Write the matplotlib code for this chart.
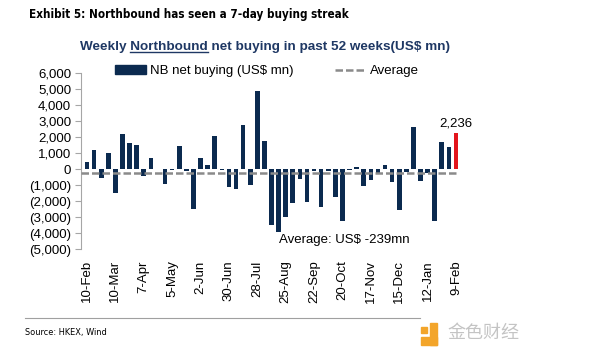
import numpy as np
import matplotlib.pyplot as plt
import matplotlib.patches as mpatches
from matplotlib.lines import Line2D
from matplotlib.ticker import FuncFormatter, MultipleLocator

plt.rcParams['font.family'] = ['Liberation Sans', 'DejaVu Sans']

# weekly northbound net buying, US$ mn
nb_buying = [440, 1200, -580, 980, -1500, 2170, 1600, 1520, -420, 710,
             30, -940, -80, 1440, -100, -2500, 710, 250, 2040, -30,
             -1150, -1250, 2770, -1000, 4850, 1750, -3500, -3960, -3020, -2120,
             -620, -2040, -100, -2370, -150, -1770, -3230, -80, 100, -1040,
             -670, -250, 250, -790, -2560, -200, 2630, -730, -250, -3230,
             1690, 1400, 2236]
avg_value = -239
tick_labels = ['10-Feb', '10-Mar', '7-Apr', '5-May', '2-Jun', '30-Jun', '28-Jul',
               '25-Aug', '22-Sep', '20-Oct', '17-Nov', '15-Dec', '12-Jan', '9-Feb']

navy = '#0b2a4f'
red = '#e3151c'
grey = '#8a8a8a'

fig = plt.figure(figsize=(6, 3.59), dpi=100)
ax = fig.add_axes([0.135, 0.306, 0.635, 0.491])

x = np.arange(len(nb_buying))
colors = [navy] * (len(nb_buying) - 1) + [red]
ax.bar(x, nb_buying, width=0.65, color=colors, zorder=2)
# average line sits on top of the bars
ax.plot([-0.8, 52.4], [avg_value, avg_value], color=grey, lw=1.8,
        dashes=(3, 1.2), zorder=3)

ax.set_xlim(-0.85, 52.85)
ax.set_ylim(-5000, 6000)
ax.yaxis.set_major_locator(MultipleLocator(1000))


def fmt(v, pos):
    if v < 0:
        return '({:,.0f})'.format(-v)
    return '{:,.0f}'.format(v)


ax.yaxis.set_major_formatter(FuncFormatter(fmt))
ax.set_xticks(x[::4])
ax.set_xticklabels(tick_labels, rotation=90, fontsize=9.5)
ax.tick_params(axis='x', length=0, pad=8)
ax.tick_params(axis='y', labelsize=9.5, length=4, color='#a6a6a6', pad=3)
for s in ['top', 'right', 'bottom']:
    ax.spines[s].set_visible(False)
ax.spines['left'].set_color('#a6a6a6')

ax.text(52, 2236 + 250, '2,236', ha='center', va='bottom', fontsize=9.5)
ax.text(36.2, -4450, 'Average: US$ -239mn', ha='center', va='center', fontsize=9.5)

handles = [mpatches.Patch(color=navy, label='NB net buying (US$ mn)'),
           Line2D([0], [0], color=grey, lw=1.8, dashes=(3, 1.2), label='Average')]
fig.legend(handles=handles, loc='center', bbox_to_anchor=(0.445, 0.802), ncol=2,
           frameon=False, fontsize=9.5, handlelength=2.3, handleheight=0.6,
           columnspacing=3.2, handletextpad=0.3)

fig.text(0.048, 0.96, 'Exhibit 5: Northbound has seen a 7-day buying streak',
         fontsize=8.4, fontweight='bold', va='center',
         family=['DejaVu Sans'], fontstretch='condensed')

sub = fig.text(0.442, 0.868, 'Weekly Northbound net buying in past 52 weeks(US$ mn)',
               fontsize=9.7, fontweight='bold', color='#1f3864', ha='center', va='center')
# underline "Northbound"
r = fig.canvas.get_renderer()
bb = sub.get_window_extent(renderer=r)
t1 = fig.text(0, 0, 'Weekly ', fontsize=9.7, fontweight='bold')
t2 = fig.text(0, 0, 'Weekly Northbound', fontsize=9.7, fontweight='bold')
w1 = t1.get_window_extent(renderer=r).width
w2 = t2.get_window_extent(renderer=r).width
t1.remove()
t2.remove()
W, H = fig.bbox.width, fig.bbox.height
uy = (bb.y0 + 1) / H
fig.add_artist(Line2D([(bb.x0 + w1) / W, (bb.x0 + w2) / W], [uy, uy],
                      color='#1f3864', lw=1))

fig.add_artist(Line2D([0.042, 0.70], [1 - 318 / 359, 1 - 318 / 359],
                      color='#a0a0a0', lw=0.8))
fig.text(0.042, 1 - 332 / 359, 'Source: HKEX, Wind', fontsize=6.6, va='center',
         family=['DejaVu Sans'], fontstretch='condensed')

# watermark
fig.add_artist(mpatches.Rectangle((421 / 600, 1 - 345 / 359), 16 / 600, 8 / 359,
                                  color='#f3a52a', transform=fig.transFigure))
fig.add_artist(mpatches.Rectangle((430 / 600, 1 - 345 / 359), 7 / 600, 22 / 359,
                                  color='#f3a52a', transform=fig.transFigure))
fig.add_artist(mpatches.Rectangle((421 / 600, 1 - 333 / 359), 6 / 600, 6 / 359,
                                  color='#f3a52a', transform=fig.transFigure))
fig.text(447 / 600, 1 - 333 / 359, '金色财经', fontsize=13, color='#c4c4c4',
         va='center', family=['Noto Sans CJK SC', 'DejaVu Sans'])

fig.savefig('out.png', dpi=100)
